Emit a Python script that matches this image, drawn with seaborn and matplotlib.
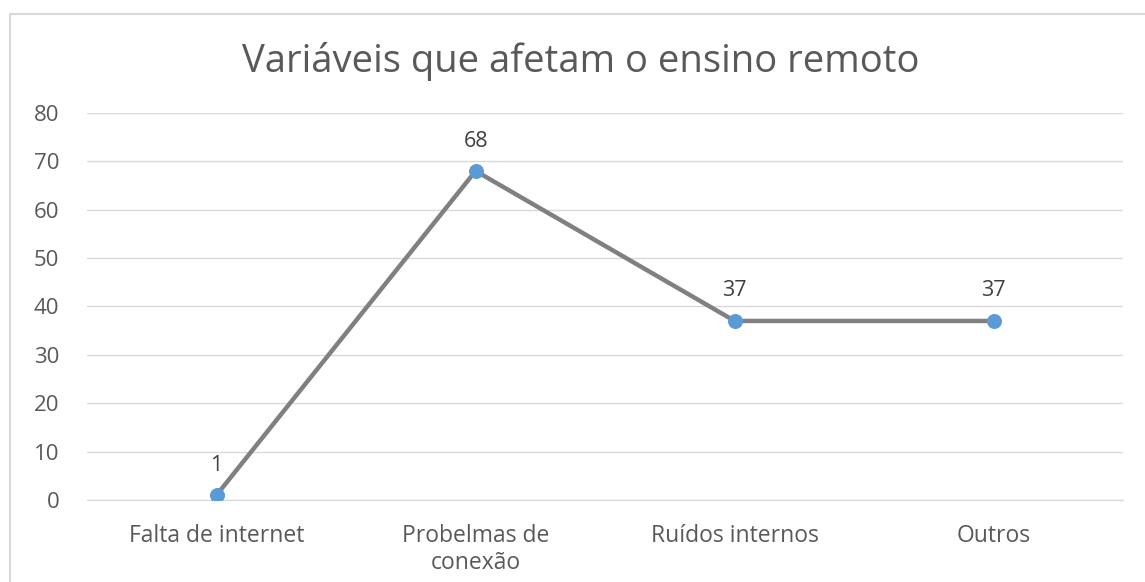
import matplotlib.pyplot as plt
import matplotlib.patches as mpatches
import numpy as np
import pandas as pd
import seaborn as sns

categorias = ["Falta de internet", "Probelmas de\nconexão", "Ruídos internos", "Outros"]
valores = [1, 68, 37, 37]
yticks = [0, 10, 20, 30, 40, 50, 60, 70, 80]

sns.set_style("white")
plt.rcParams["font.family"] = ["Open Sans", "DejaVu Sans"]

df = pd.DataFrame({"categoria": categorias, "valor": valores})
df["pos"] = np.arange(len(categorias))

fig = plt.figure(figsize=(11.45, 5.82), dpi=100)
ax = fig.add_axes([0.076, 0.141, 0.905, 0.665])

# moldura do gráfico (estilo Excel)
fig.patches.append(mpatches.Rectangle((10 / 1145, -0.05), 1.2, 1 - 14 / 582 + 0.05,
                                      transform=fig.transFigure, fill=False,
                                      edgecolor="#d9d9d9", linewidth=1.5))

sns.lineplot(data=df, x="pos", y="valor", ax=ax, color="#808080", linewidth=3.2,
             marker="o", markersize=10, markerfacecolor="#5b9bd5",
             markeredgecolor="#5b9bd5", zorder=3)

for x, v in zip(df["pos"], df["valor"]):
    ax.annotate(str(v), (x, v), xytext=(0, 14), textcoords="offset points",
                ha="center", va="bottom", fontsize=15.5, color="#404040")

ax.set_xlim(-0.5, len(categorias) - 0.5)
ax.set_ylim(0, 80)
ax.set_yticks(yticks)
ax.set_xticks(df["pos"])
ax.set_xticklabels(categorias, fontsize=16.5, color="#595959", linespacing=1.2)
ax.set_xticks(np.arange(-0.5, len(categorias), 1), minor=True)
ax.tick_params(axis="y", labelsize=16, labelcolor="#595959", length=0, pad=20)
ax.tick_params(axis="x", which="major", length=0, pad=17)
ax.tick_params(axis="x", which="minor", length=6, color="#d9d9d9", width=1)
ax.yaxis.grid(True, color="#d9d9d9", linewidth=1)
ax.set_axisbelow(True)
for s in ["top", "right", "left"]:
    ax.spines[s].set_visible(False)
ax.spines["bottom"].set_color("#d9d9d9")
ax.set_xlabel("")
ax.set_ylabel("")

fig.text(0.507, 0.895, "Variáveis que afetam o ensino remoto", ha="center", va="center",
         fontsize=27.5, color="#595959")

fig.savefig("out.png", dpi=100)
